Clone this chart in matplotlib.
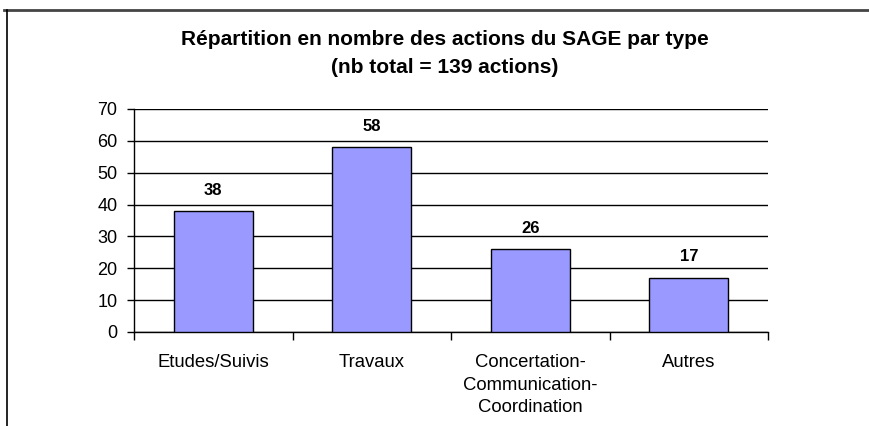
import matplotlib
matplotlib.use("Agg")
import matplotlib.pyplot as plt
from matplotlib.lines import Line2D
import numpy as np

CATEGORIES = ["Etudes/Suivis", "Travaux", "Concertation-\nCommunication-\nCoordination", "Autres"]
COUNTS     = [38, 58, 26, 17]
Y_TICKS    = [0, 10, 20, 30, 40, 50, 60, 70]
TITLE      = "Répartition en nombre des actions du SAGE par type\n(nb total = 139 actions)"

BAR_COLOR = "#9999ff"
FONT      = "Liberation Sans"

plt.rcParams["font.family"] = FONT

fig = plt.figure(figsize=(8.69, 4.26), dpi=100)
fig.patch.set_facecolor("white")
ax = fig.add_axes([0.1542, 0.2207, 0.7296, 0.5235])

xs = np.arange(len(CATEGORIES))
bars = ax.bar(xs, COUNTS, width=0.5, color=BAR_COLOR, edgecolor="black",
              linewidth=1.0, zorder=3)

for x, v in zip(xs, COUNTS):
    ax.annotate(str(v), (x, v), xytext=(0, 15), textcoords="offset points",
                ha="center", va="center", fontsize=12, fontweight="bold")

ax.set_xlim(-0.5, len(CATEGORIES) - 0.5)
ax.set_ylim(0, 70)
ax.set_yticks(Y_TICKS)
ax.yaxis.grid(True, color="black", linewidth=1.0, zorder=0)
ax.set_axisbelow(True)

ax.set_xticks(xs)
ax.set_xticklabels(CATEGORIES, fontsize=13.3, linespacing=1.43, va="top")
ax.set_xticks(np.arange(-0.5, len(CATEGORIES)), minor=True)
ax.tick_params(axis="x", which="major", length=0, pad=16)
ax.tick_params(axis="x", which="minor", length=6, width=1.0, direction="out")
ax.tick_params(axis="y", length=5, width=1.0, direction="out", labelsize=13, pad=7)

for side in ["top", "right"]:
    ax.spines[side].set_visible(False)
ax.spines["left"].set_linewidth(1.0)
ax.spines["bottom"].set_linewidth(1.0)

fig.text(0.5115, 0.875, TITLE, ha="center", va="center", fontsize=15,
         fontweight="bold", linespacing=1.58)

# frame of the original image (top and left edges only)
fig.add_artist(Line2D([4 / 869, 1], [1 - 10 / 426] * 2, color="#444444",
                      linewidth=2.0, transform=fig.transFigure))
fig.add_artist(Line2D([7 / 869] * 2, [0, 1 - 10 / 426], color="black",
                      linewidth=1.2, transform=fig.transFigure))

fig.savefig("out.png", dpi=100)
